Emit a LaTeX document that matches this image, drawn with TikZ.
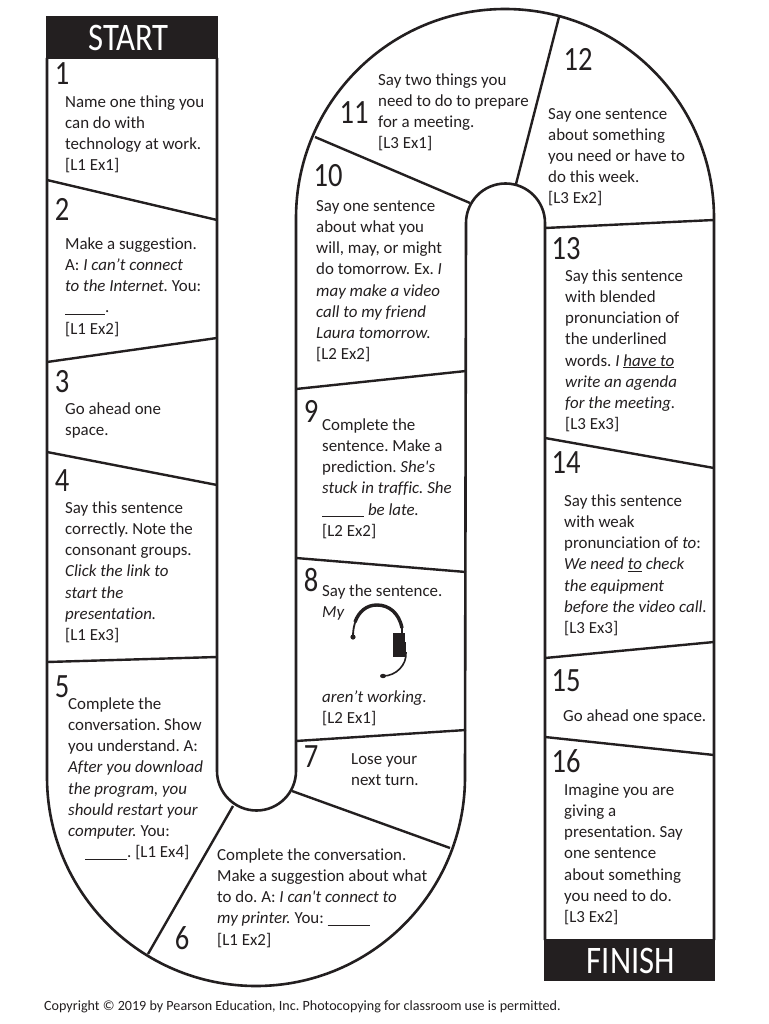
\documentclass[tikz,border=0pt]{standalone}
\usepackage{graphicx}
\usepackage{fontspec}
\newfontfamily\cfont[Ligatures=NoCommon]{Carlito}
\definecolor{ink}{HTML}{231F20}
\newcommand{\fst}{\rule{0pt}{13pt}}
\newcommand{\blank}[1]{\underline{\hspace{#1pt}}}
\newcommand{\tall}[1]{\scalebox{0.84}[1]{#1}}
\tikzset{
  board/.style={anchor=north west,inner sep=0pt,align=left,text=ink,font=\cfont\frenchspacing\fontsize{16.9}{21.2}\selectfont},
  num/.style={anchor=center,inner sep=0pt,text=ink,font=\cfont\fontsize{34}{34}\selectfont},
  outline/.style={draw=ink,line width=2.6pt,line join=round},
  divider/.style={draw=ink,line width=2.4pt},
  banner/.style={anchor=center,inner sep=0pt,text=white,font=\cfont\fontsize{39}{39}\selectfont},
}
\begin{document}
\begin{tikzpicture}[x=1pt,y=-1pt]
\useasboundingbox (0,0) rectangle (768,1024);
\fill[white] (0,0) rectangle (768,1024);
% board outline
\draw[outline] (47,58) -- (47,777) arc[start angle=180,end angle=0,radius=209] -- (466,223)
  arc[start angle=180,end angle=360,radius=39.5] -- (545.0,940);
\draw[outline] (217,58) -- (217,771) arc[start angle=180,end angle=0,radius=39.5] -- (296,218)
  arc[start angle=180,end angle=360,radius=209] -- (714,940);
\draw[outline] (47,58) -- (217,58);
\draw[outline] (545,940) -- (714,940);
% headers
\fill[ink] (46,16) rectangle (218,59);
\fill[ink] (544,939) rectangle (715,981);
\node[banner] (start) at (128.5,38) {\tall{START}};
\node[banner] (finish) at (631,961) {\tall{FINISH}};
% dividers
\draw[divider] (47,180) -- (217,220);
\draw[divider] (47,362) -- (217,338);
\draw[divider] (47,452) -- (217,485);
\draw[divider] (47,662) -- (217,657);
\draw[divider] (148,954) -- (233,806);
\draw[divider] (292,791) -- (450,848);
\draw[divider] (296,741) -- (466,730);
\draw[divider] (296,558) -- (466,572);
\draw[divider] (296,389) -- (466,371);
\draw[divider] (315,137) -- (470,203);
\draw[divider] (559,17) -- (516,184);
\draw[divider] (545,228) -- (714,220);
\draw[divider] (545,438) -- (714,468);
\draw[divider] (545,658) -- (714,642);
\draw[divider] (545,737) -- (714,755);
% numbers
\node[num] (n1) at (62,74) {\tall{1}};
\node[num] (n2) at (62,209) {\tall{2}};
\node[num] (n3) at (62,382) {\tall{3}};
\node[num] (n4) at (62,481) {\tall{4}};
\node[num] (n5) at (62,687) {\tall{5}};
\node[num] (n6) at (182,938) {\tall{6}};
\node[num] (n7) at (311,757) {\tall{7}};
\node[num] (n8) at (311,580) {\tall{8}};
\node[num] (n9) at (311,411) {\tall{9}};
\node[num] (n10) at (328,176) {\tall{10}};
\node[num] (n11) at (354,113) {\tall{11}};
\node[num] (n12) at (578,59) {\tall{12}};
\node[num] (n13) at (566,249) {\tall{13}};
\node[num] (n14) at (566,463) {\tall{14}};
\node[num] (n15) at (566,681) {\tall{15}};
\node[num] (n16) at (566,761) {\tall{16}};
% texts
\node[board] (t1) at (65,94) {\fst Name one thing you\\can do with\\technology at work.\\{}[L1 Ex1]};
\node[board] (t2) at (65,236) {\fst Make a suggestion.\\A: \emph{I can’t connect}\\\emph{to the Internet.} You:\\\blank{40}.\\{}[L1 Ex2]};
\node[board] (t3) at (65,401) {\fst Go ahead one\\space.};
\node[board] (t4) at (65,500) {\fst Say this sentence\\correctly. Note the\\consonant groups.\\\emph{Click the link to}\\\emph{start the}\\\emph{presentation.}\\{}[L1 Ex3]};
\node[board] (t5) at (68,696) {\fst Complete the\\conversation. Show\\you understand. A:\\\emph{After you download}\\\emph{the program, you}\\\emph{should restart your}\\\emph{computer.} You:\\\hspace{17pt}\blank{42}. [L1 Ex4]};
\node[board] (t6) at (217,847) {\fst Complete the conversation.\\Make a suggestion about what\\to do. A: \emph{I can't connect to}\\\emph{my printer.} You: \blank{42}\\{}[L1 Ex2]};
\node[board] (t7) at (351,751) {\fst Lose your\\next turn.};
\node[board] (t8a) at (322,583) {\fst Say the sentence.\\\emph{My}};
\node[board] (t8b) at (322,689) {\fst\emph{aren’t working.}\\{}[L2 Ex1]};
\node[board] (t9) at (322,417) {\fst Complete the\\sentence. Make a\\prediction. \emph{She's}\\\emph{stuck in traffic. She}\\\blank{42} \emph{be late.}\\{}[L2 Ex2]};
\node[board] (t10) at (316,198) {\fst Say one sentence\\about what you\\will, may, or might\\do tomorrow. Ex. \emph{I}\\\emph{may make a video}\\\emph{call to my friend}\\\emph{Laura tomorrow.}\\{}[L2 Ex2]};
\node[board] (t11) at (378,72) {\fst Say two things you\\need to do to prepare\\for a meeting.\\{}[L3 Ex1]};
\node[board] (t12) at (548,106) {\fst Say one sentence\\about something\\you need or have to\\do this week.\\{}[L3 Ex2]};
\node[board] (t13) at (565,268) {\fst Say this sentence\\with blended\\pronunciation of\\the underlined\\words. \emph{I \underline{have to}}\\\emph{write an agenda}\\\emph{for the meeting.}\\{}[L3 Ex3]};
\node[board] (t14) at (564,493) {\fst Say this sentence\\with weak\\pronunciation of \emph{to}:\\\emph{We need \underline{to} check}\\\emph{the equipment}\\\emph{before the video call.}\\{}[L3 Ex3]};
\node[board] (t15) at (563,708) {\fst Go ahead one space.};
\node[board] (t16) at (564,782) {\fst Imagine you are\\giving a\\presentation. Say\\one sentence\\about something\\you need to do.\\{}[L3 Ex2]};
\node[anchor=west,inner sep=0pt,text=ink,font=\cfont\frenchspacing\fontsize{14.1}{16}\selectfont] (copy) at (44,1007) {Copyright © 2019 by Pearson Education, Inc. Photocopying for classroom use is permitted.};
% headset
\draw[ink,line width=1.8pt,line cap=round] (353,636) .. controls (353,630) and (354,625) .. (356,620);
\fill[ink] (353,637) circle (2.6);
\draw[ink,line width=3.4pt] (355,622) .. controls (359,611) and (367,605) .. (377,605) .. controls (389,605) and (399,613) .. (402,628);
\draw[ink,line width=1.6pt] (402,628) -- (402,634);
\fill[ink] (393,633) rectangle (405,657);
\fill[ink] (403,642) rectangle (406,652);
\draw[ink,line width=1.6pt] (406,652) .. controls (407,665) and (396,676) .. (383,676);
\fill[ink] (383,676) ellipse (3 and 2.2);
\end{tikzpicture}
\end{document}
